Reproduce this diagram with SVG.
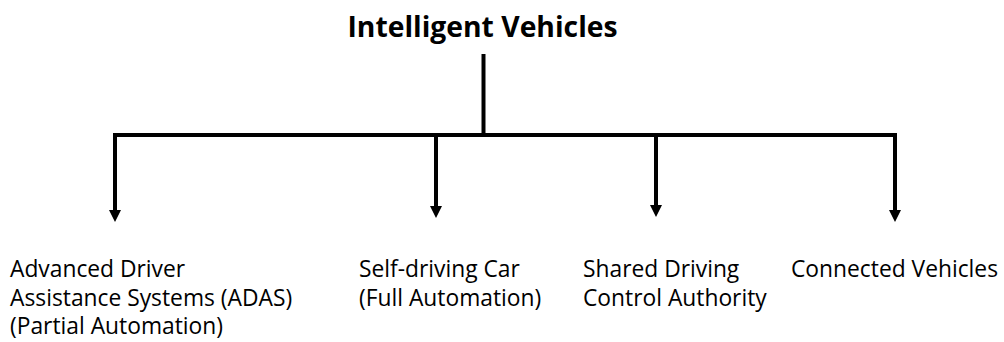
<svg xmlns="http://www.w3.org/2000/svg" width="1004" height="342" viewBox="0 0 1004 342">
<defs>
<style>
.t{font-family:"Open Sans","Liberation Sans",sans-serif;font-size:22.8px;fill:#000}
.title{font-family:"Open Sans","Liberation Sans",sans-serif;font-size:28.3px;font-weight:bold;fill:#000}
.ln{stroke:#000;stroke-width:4;fill:none}
.ah{fill:#000}
</style>
</defs>
<rect width="1004" height="342" fill="#fff"/>
<g id="root"><text class="title" x="482.5" y="37" text-anchor="middle">Intelligent Vehicles</text></g>
<g id="connectors">
<line class="ln" x1="483.5" y1="54" x2="483.5" y2="135"/>
<line class="ln" x1="113" y1="135" x2="897" y2="135"/>
<path class="ln" d="M115,133 V212"/>
<path class="ln" d="M436,133 V208"/>
<path class="ln" d="M656,133 V207"/>
<path class="ln" d="M895,133 V212"/>
<path class="ah" d="M109,210 L121,210 L115,222 Z M430,206 L442,206 L436,218 Z M650,205 L662,205 L656,217 Z M889,210 L901,210 L895,222 Z"/>
</g>
<g id="adas"><text class="t" x="10" y="277">Advanced Driver<tspan x="10" y="306">Assistance Systems (ADAS)</tspan><tspan x="10" y="334">(Partial Automation)</tspan></text></g>
<g id="selfdriving"><text class="t" x="359" y="277">Self-driving Car<tspan x="359" y="306">(Full Automation)</tspan></text></g>
<g id="shared"><text class="t" x="583" y="277">Shared Driving<tspan x="583" y="306">Control Authority</tspan></text></g>
<g id="connected"><text class="t" x="791" y="277">Connected Vehicles</text></g>
</svg>
